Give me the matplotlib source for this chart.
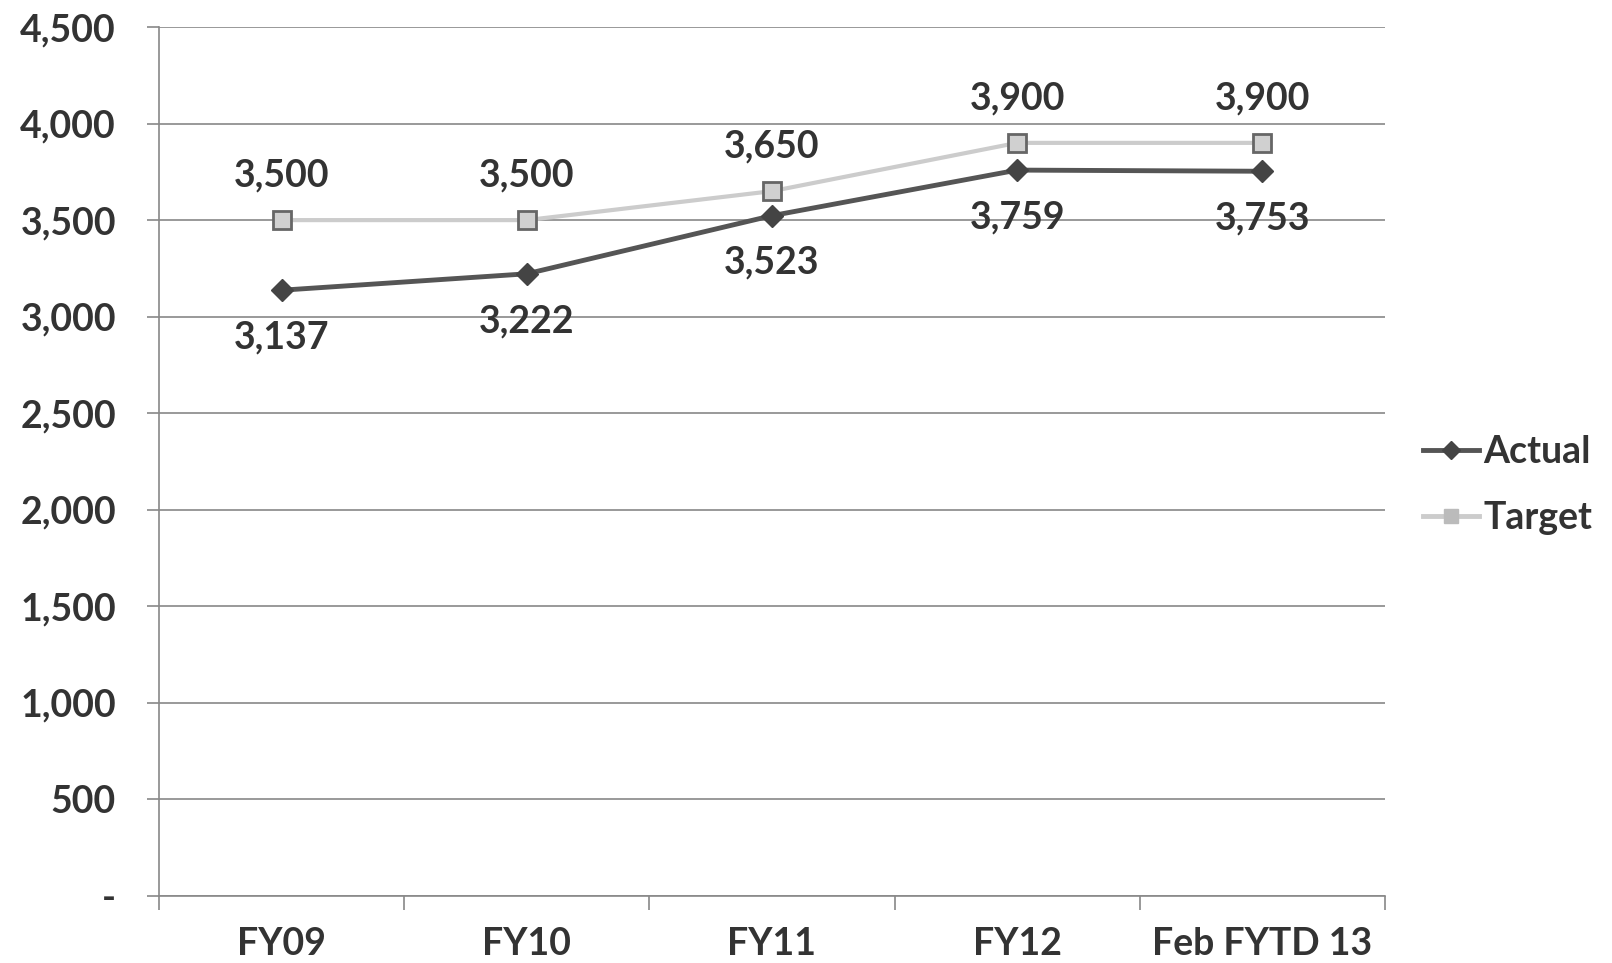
import matplotlib
matplotlib.use('Agg')
import matplotlib.pyplot as plt
from matplotlib.lines import Line2D

categories = ['FY09', 'FY10', 'FY11', 'FY12', 'Feb FYTD 13']
actual = [3137, 3222, 3523, 3759, 3753]
target = [3500, 3500, 3650, 3900, 3900]
yticks = [0, 500, 1000, 1500, 2000, 2500, 3000, 3500, 4000, 4500]

plt.rcParams['font.family'] = ['Lato', 'DejaVu Sans']
plt.rcParams['font.weight'] = 'bold'
TXT = '#333333'
FS = 27

W, H = 1612, 963
fig = plt.figure(figsize=(W / 100, H / 100), dpi=100)
ax = fig.add_axes([159 / W, (H - 896) / H, (1385 - 159) / W, (896 - 27) / H])

x = list(range(len(categories)))
ax.plot(x, target, color='#cccccc', lw=3, marker='s', ms=13,
        mfc='#d0d0d0', mec='#666666', mew=2, zorder=3)
ax.plot(x, actual, color='#555555', lw=3.5, marker='D', ms=11,
        mfc='#444444', mec='#444444', zorder=4)

for xi, v in zip(x, target):
    ax.annotate(f'{v:,}', (xi, v), xytext=(0, 32), textcoords='offset points',
                ha='center', va='center', fontsize=FS, color=TXT)
for xi, v in zip(x, actual):
    ax.annotate(f'{v:,}', (xi, v), xytext=(0, -34), textcoords='offset points',
                ha='center', va='center', fontsize=FS, color=TXT)

ax.set_xlim(-0.5, len(categories) - 0.5)
ax.set_ylim(0, 4500)
ax.set_yticks(yticks)
ax.set_yticklabels(['-' if t == 0 else f'{t:,}' for t in yticks])
ax.set_xticks(x)
ax.set_xticklabels(categories)
ax.set_xticks([i - 0.5 for i in range(len(categories) + 1)], minor=True)
ax.tick_params(axis='x', which='major', length=0, pad=22, labelsize=FS, labelcolor=TXT)
ax.tick_params(axis='x', which='minor', length=10, color='#888888', width=1.2)
ax.tick_params(axis='y', direction='out', length=9, color='#888888', width=1.2,
               pad=22, labelsize=FS, labelcolor=TXT)
ax.grid(axis='y', color='#888888', lw=1.2)
ax.set_axisbelow(True)
for s in ['top', 'right']:
    ax.spines[s].set_visible(False)
for s in ['left', 'bottom']:
    ax.spines[s].set_color('#888888')
    ax.spines[s].set_linewidth(1.2)

handles = [
    Line2D([], [], color='#555555', lw=3.5, marker='D', ms=9, mfc='#444444', mec='#444444'),
    Line2D([], [], color='#cccccc', lw=3.5, marker='s', ms=10, mfc='#bbbbbb', mec='#bbbbbb'),
]
fig.legend(handles, ['Actual', 'Target'], loc='center left',
           bbox_to_anchor=(1423 / W, 1 - 485 / H), frameon=False, borderpad=0,
           borderaxespad=0, fontsize=FS, handlelength=1.5, handletextpad=0.1,
           labelspacing=0.85, labelcolor=TXT)

fig.savefig('out.png', dpi=100, facecolor='white')
